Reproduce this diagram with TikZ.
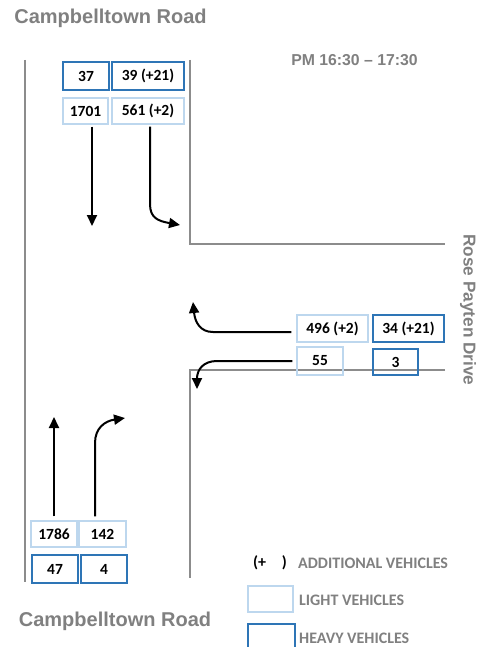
\documentclass[tikz,border=0pt]{standalone}
\usepackage{fontspec}
\setmainfont{Liberation Sans}
\newfontfamily\calfont{Carlito}
\usetikzlibrary{arrows.meta}
\definecolor{roadgray}{HTML}{8C8C8C}
\definecolor{txtgray}{HTML}{808080}
\definecolor{heavyblue}{HTML}{2E75B6}
\definecolor{lightblue}{HTML}{BDD7EE}
\tikzset{
  road/.style={draw=roadgray,line width=2pt},
  numbox/.style={rectangle,inner sep=0pt,line width=1.4pt,font=\calfont\bfseries\fontsize{15.5}{17}\selectfont},
  heavybox/.style={numbox,draw=heavyblue},
  lightbox/.style={numbox,draw=lightblue},
  flow/.style={draw=black,line width=2pt,-{Triangle[length=11pt,width=10pt]}},
  roadname/.style={text=txtgray,font=\bfseries\fontsize{20}{23}\selectfont,inner sep=0pt},
  legtext/.style={text=txtgray,font=\calfont\bfseries\fontsize{16}{18}\selectfont,inner sep=0pt,anchor=west}
}
\begin{document}
\begin{tikzpicture}[x=1pt,y=-1pt]
\useasboundingbox (0,0) rectangle (483,647);
\clip (0,0) rectangle (483,647);
% roads
\draw[road] (25,60) -- (25,582);
\draw[road] (190,60) -- (190,244) -- (445,244);
\draw[road] (445,370) -- (190,370) -- (190,578);
% titles
\node[roadname] (ctop) at (110.5,18) {Campbelltown Road};
\node[roadname] (cbot) at (115,621) {Campbelltown Road};
\node[roadname,rotate=-90,font=\bfseries\fontsize{17.2}{20}\selectfont] (rose) at (468,310) {Rose Payten Drive};
\node[text=txtgray,font=\bfseries\fontsize{15.8}{18}\selectfont,inner sep=0pt] (pm) at (354.5,60) {PM 16:30 – 17:30};
% top boxes
\node[heavybox,minimum width=46pt,minimum height=28pt] (n37) at (86,76) {37};
\node[heavybox,minimum width=72pt,minimum height=28pt] (n39) at (148,76) {39 (+21)};
\node[lightbox,minimum width=45pt,minimum height=26pt] (n1701) at (85.5,111) {1701};
\node[lightbox,minimum width=72pt,minimum height=26pt] (n561) at (148,111) {561 (+2)};
% right boxes
\node[lightbox,minimum width=71pt,minimum height=27pt] (n496) at (332.5,328.5) {496 (+2)};
\node[heavybox,minimum width=71pt,minimum height=27pt] (n34) at (408.5,328.5) {34 (+21)};
\node[lightbox,minimum width=46pt,minimum height=28pt] (n55) at (320,361) {55};
\node[heavybox,minimum width=45pt,minimum height=26pt] (n3) at (395.5,362) {3};
% bottom boxes
\node[lightbox,minimum width=46pt,minimum height=26pt] (n1786) at (54,534) {1786};
\node[lightbox,minimum width=47pt,minimum height=26pt] (n142) at (102.5,534) {142};
\node[heavybox,minimum width=46pt,minimum height=28pt] (n47) at (55,569) {47};
\node[heavybox,minimum width=46pt,minimum height=28pt] (n4) at (104,569) {4};
% arrows
\coordinate (tA) at (92,226);
\coordinate (tB) at (180,225);
\coordinate (tC) at (193,302);
\coordinate (tD) at (197,389);
\coordinate (tE) at (54,417);
\coordinate (tF) at (125,418);
\draw[flow] ([xshift=6.5pt,yshift=-2pt]n1701.south) -- (tA);
\draw[flow] ([xshift=2pt,yshift=-2pt]n561.south) -- (150,204) .. controls (150,218) and (158,221) .. (tB);
\draw[flow] ([xshift=-5pt,yshift=-3.5pt]n496.west) -- (213,332) .. controls (200,332) and (195,322) .. (tC);
\draw[flow] ([xshift=-4pt]n55.west) -- (217,361) .. controls (203,361) and (197,370) .. (tD);
\draw[flow] ([yshift=4pt]n1786.north) -- (tE);
\draw[flow] ([xshift=-7.5pt,yshift=4pt]n142.north) -- (95,443) .. controls (95,428) and (105,421) .. (tF);
% legend
\node[font=\calfont\bfseries\fontsize{16}{18}\selectfont,inner sep=0pt] (lplus) at (270,563) {(+\hspace{16pt})};
\node[legtext] (ladd) at (298,563) {ADDITIONAL VEHICLES};
\node[lightbox,minimum width=45pt,minimum height=26pt] (llight) at (270.5,599) {};
\node[legtext] (llt) at (299,600) {LIGHT VEHICLES};
\node[heavybox,minimum width=47pt,minimum height=28pt] (lheavy) at (271.5,638) {};
\node[legtext] (lht) at (299,638) {HEAVY VEHICLES};
\end{tikzpicture}
\end{document}
